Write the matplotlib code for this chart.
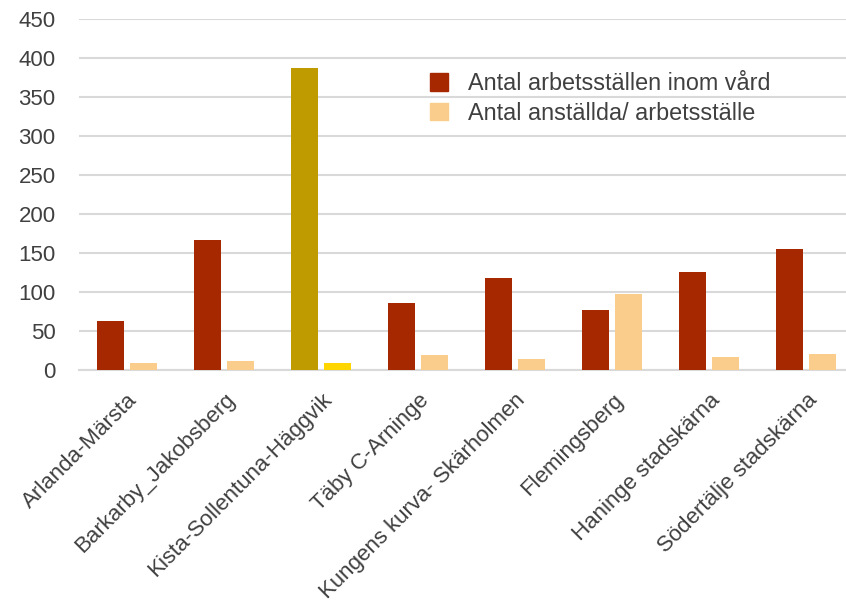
import matplotlib.pyplot as plt
from matplotlib.patches import Patch

plt.rcParams['font.family'] = ['Liberation Sans', 'DejaVu Sans']

categories = ['Arlanda-Märsta', 'Barkarby_Jakobsberg', 'Kista-Sollentuna-Häggvik',
              'Täby C-Arninge', 'Kungens kurva- Skärholmen', 'Flemingsberg',
              'Haninge stadskärna', 'Södertälje stadskärna']
arbetsstallen = [63, 167, 387, 86, 118, 77, 126, 155]
anstallda = [9, 12, 9, 19, 14, 97, 17, 20]
highlight = 'Kista-Sollentuna-Häggvik'

c1, c2 = '#A52800', '#FBCD8C'
h1, h2 = '#BF9B00', '#FFD500'
txt = '#404040'

fig = plt.figure(figsize=(8.46, 6.07), dpi=100)
ax = fig.add_axes([0.0928, 0.3904, 0.9072, 0.5788])

x = list(range(len(categories)))
w = 0.28
col1 = [h1 if c == highlight else c1 for c in categories]
col2 = [h2 if c == highlight else c2 for c in categories]
ax.bar([i - 0.17 for i in x], arbetsstallen, w, color=col1, zorder=3)
ax.bar([i + 0.17 for i in x], anstallda, w, color=col2, zorder=3)

ax.set_ylim(0, 450)
ax.set_xlim(-0.5, 7.41)
ax.set_yticks(range(0, 451, 50))
ax.yaxis.grid(True, color='#D9D9D9', lw=1.5, zorder=0)
for s in ['top', 'right', 'left']:
    ax.spines[s].set_visible(False)
ax.spines['bottom'].set_color('#D9D9D9')
ax.spines['bottom'].set_linewidth(1.5)
ax.tick_params(axis='y', length=0, pad=16.5, labelsize=16, labelcolor=txt)
ax.tick_params(axis='x', length=0, pad=14, labelsize=16, labelcolor=txt)
ax.set_xticks(x)
ax.set_xticklabels(categories, rotation=45, ha='right', va='top',
                   rotation_mode='anchor')

handles = [Patch(color=c1), Patch(color=c2)]
ax.legend(handles, ['Antal arbetsställen inom vård', 'Antal anställda/ arbetsställe'],
          loc='upper left', bbox_to_anchor=(430 / 846, 1 - 72 / 607),
          bbox_transform=fig.transFigure, frameon=False, fontsize=16.8,
          handlelength=0.78, handleheight=0.78, handletextpad=0.85,
          labelspacing=0.28, borderaxespad=0, borderpad=0, labelcolor=txt)

fig.savefig('out.png', dpi=100)
